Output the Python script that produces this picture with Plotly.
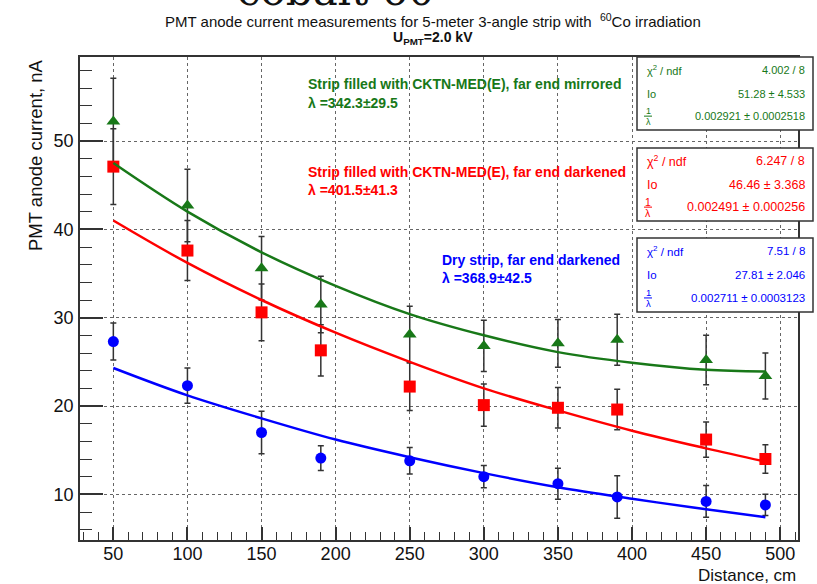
import plotly.graph_objects as go

# ---------------- data ----------------
distance = [50, 100, 150, 190, 250, 300, 350, 390, 450, 490]

mirrored_I = [52.2, 42.7, 35.6, 31.5, 28.1, 26.8, 27.1, 27.5, 25.2, 23.4]
mirrored_err = [4.9, 4.1, 3.6, 3.2, 3.2, 2.9, 2.7, 2.9, 2.8, 2.6]

darkened_I = [47.1, 37.6, 30.6, 26.3, 22.2, 20.1, 19.8, 19.6, 16.2, 14.0]
darkened_err = [4.3, 3.4, 3.2, 2.9, 2.7, 2.4, 2.3, 2.3, 2.0, 1.6]

dry_I = [27.3, 22.3, 17.0, 14.1, 13.8, 12.0, 11.2, 9.7, 9.2, 8.8]
dry_err = [2.1, 2.0, 2.4, 1.4, 1.5, 1.25, 1.75, 2.4, 1.8, 1.2]

# fit curves
fit_x = [50, 100, 150, 200, 250, 300, 350, 400, 450, 490]
mirrored_fit = [47.5, 42.0, 37.4, 33.6, 30.4, 28.0, 26.1, 24.9, 24.1, 23.9]
darkened_fit = [41.0, 36.2, 32.0, 28.3, 25.0, 22.0, 19.5, 17.2, 15.2, 13.7]
dry_fit = [24.3, 21.2, 18.6, 16.2, 14.2, 12.4, 10.8, 9.5, 8.3, 7.4]

series_labels = [
    "Strip filled with CKTN-MED(E), far end mirrored",
    "Strip filled with CKTN-MED(E), far end darkened",
    "Dry strip, far end darkened",
]
lambda_labels = ["λ =342.3±29.5", "λ =401.5±41.3", "λ =368.9±42.5"]
chi2_labels = ["4.002 / 8", "6.247 / 8", "7.51 / 8"]
io_labels = ["51.28 ± 4.533", "46.46 ± 3.368", "27.81 ± 2.046"]
inv_lambda_labels = ["0.002921 ± 0.0002518", "0.002491 ± 0.000256", "0.002711 ± 0.0003123"]

GREEN = "#187818"
RED = "#ff0000"
BLUE = "#0000ff"
colors = [GREEN, RED, BLUE]

W, H = 817, 584
L, R, T, B = 80, 19, 57, 44
PW, PH = W - L - R, H - T - B

def px(x):
    return (x - L) / PW

def py(y):
    return (H - B - y) / PH

fig = go.Figure()

err_style = dict(type="data", color="#333333", thickness=1.5, width=3, visible=True)

for yv, ev, col, sym, sz in [
    (mirrored_I, mirrored_err, GREEN, "triangle-up", 12),
    (darkened_I, darkened_err, RED, "square", 12),
    (dry_I, dry_err, BLUE, "circle", 11),
]:
    fig.add_trace(go.Scatter(
        x=distance, y=yv, mode="markers",
        marker=dict(symbol=sym, size=sz, color=col, line=dict(width=0)),
        error_y=dict(array=ev, **err_style),
        showlegend=False, cliponaxis=False,
    ))

for yv, col in [(mirrored_fit, GREEN), (darkened_fit, RED), (dry_fit, BLUE)]:
    fig.add_trace(go.Scatter(
        x=fit_x, y=yv, mode="lines", line=dict(color=col, width=2.5, shape="spline"),
        showlegend=False,
    ))

annotations = []
shapes = []

# big partially cut-off text at the very top
annotations.append(dict(
    text="cobalt 60", xref="paper", yref="paper", x=px(336), y=py(-9),
    xanchor="center", yanchor="middle", showarrow=False,
    font=dict(family="DejaVu Serif", size=42, color="#111111"),
))

# title
annotations.append(dict(
    text="PMT anode current measurements for 5-meter 3-angle strip with  <sup>60</sup>Co irradiation",
    xref="paper", yref="paper", x=px(433), y=py(20), xanchor="center", yanchor="middle",
    showarrow=False, font=dict(family="Liberation Sans", size=15, color="#111111"),
))
annotations.append(dict(
    text="<b>U<sub>PMT</sub>=2.0 kV</b>",
    xref="paper", yref="paper", x=px(433), y=py(38), xanchor="center", yanchor="middle",
    showarrow=False, font=dict(family="Liberation Sans", size=14, color="#111111"),
))

# axis titles
annotations.append(dict(
    text="PMT anode current, nA", xref="paper", yref="paper", x=px(35), y=1.0,
    xanchor="center", yanchor="top", textangle=-90, showarrow=False,
    font=dict(family="Liberation Sans", size=18.5, color="#111111"),
))
annotations.append(dict(
    text="Distance, cm", xref="paper", yref="paper", x=1.0, y=py(575),
    xanchor="right", yanchor="middle", showarrow=False,
    font=dict(family="Liberation Sans", size=17, color="#111111"),
))

# in-plot labels
label_pos = [(306, 84, 103), (306, 172, 190), (440, 260, 278)]
for (x0, y1, y2), txt, lam, col in zip(label_pos, series_labels, lambda_labels, colors):
    annotations.append(dict(
        text="<b>" + txt + "</b>", xref="paper", yref="paper", x=px(x0), y=py(y1),
        xanchor="left", yanchor="middle", showarrow=False,
        font=dict(family="Liberation Sans", size=14, color=col),
    ))
    annotations.append(dict(
        text="<b>" + lam + "</b>", xref="paper", yref="paper", x=px(x0), y=py(y2),
        xanchor="left", yanchor="middle", showarrow=False,
        font=dict(family="Liberation Sans", size=14, color=col),
    ))

# stat boxes
boxes = [(57, 130), (148, 221), (238, 312)]
box_font = [11, 12.5, 11.5]
for (yt, yb), col, fs, chi, io, inv in zip(boxes, colors, box_font, chi2_labels, io_labels, inv_lambda_labels):
    shapes.append(dict(
        type="rect", xref="paper", yref="paper", x0=px(637), x1=px(813), y0=py(yb), y1=py(yt),
        line=dict(color="#333333", width=1.5), fillcolor="white", layer="above",
    ))
    h = yb - yt
    rows = [yt + h * 0.18, yt + h * 0.5, yt + h * 0.81]
    lefts = ["χ<sup>2</sup> / ndf", "Io"]
    rights = [chi, io, inv]
    for i in range(2):
        annotations.append(dict(
            text=lefts[i], xref="paper", yref="paper", x=px(645), y=py(rows[i]),
            xanchor="left", yanchor="middle", showarrow=False,
            font=dict(family="Liberation Sans", size=fs, color=col),
        ))
    for i in range(3):
        annotations.append(dict(
            text=rights[i], xref="paper", yref="paper", x=px(807), y=py(rows[i]),
            xanchor="right", yanchor="middle", showarrow=False,
            font=dict(family="Liberation Sans", size=fs, color=col),
        ))
    # 1/lambda fraction
    annotations.append(dict(
        text="1", xref="paper", yref="paper", x=px(648), y=py(rows[2] - 5.5),
        xanchor="center", yanchor="middle", showarrow=False,
        font=dict(family="Liberation Sans", size=fs - 2, color=col),
    ))
    annotations.append(dict(
        text="λ", xref="paper", yref="paper", x=px(648), y=py(rows[2] + 6),
        xanchor="center", yanchor="middle", showarrow=False,
        font=dict(family="Liberation Sans", size=fs - 2, color=col),
    ))
    shapes.append(dict(
        type="line", xref="paper", yref="paper", x0=px(644), x1=px(652),
        y0=py(rows[2]), y1=py(rows[2]), line=dict(color=col, width=1), layer="above",
    ))

axis_common = dict(
    showline=True, linecolor="#333333", linewidth=1.5, mirror=True,
    ticks="inside", tickcolor="#333333", tickwidth=1.5,
    ticklabelposition="outside",
    showgrid=True, gridcolor="#666666", griddash="dot", gridwidth=1,
    zeroline=False,
    tickfont=dict(family="Liberation Sans", size=18, color="#111111"),
)

fig.update_layout(
    width=W, height=H,
    margin=dict(l=L, r=R, t=T, b=B),
    paper_bgcolor="white", plot_bgcolor="white",
    xaxis=dict(range=[27.5, 512], tickmode="linear", tick0=50, dtick=50, ticklen=13,
               ticklabelstandoff=-3,
               minor=dict(ticks="inside", dtick=10, tick0=0, ticklen=8, tickcolor="#333333", tickwidth=1.2, showgrid=False),
               **axis_common),
    yaxis=dict(range=[4.83, 59.51], tickmode="linear", tick0=0, dtick=10, ticklen=23,
               ticklabelstandoff=1,
               minor=dict(ticks="inside", dtick=2, tick0=0, ticklen=12, tickcolor="#333333", tickwidth=1.2, showgrid=False),
               **axis_common),
    annotations=annotations, shapes=shapes,
    showlegend=False,
)

fig.write_html("out.html", config={"displayModeBar": False},
               post_script="document.body.style.margin='0';document.body.style.padding='0';")
